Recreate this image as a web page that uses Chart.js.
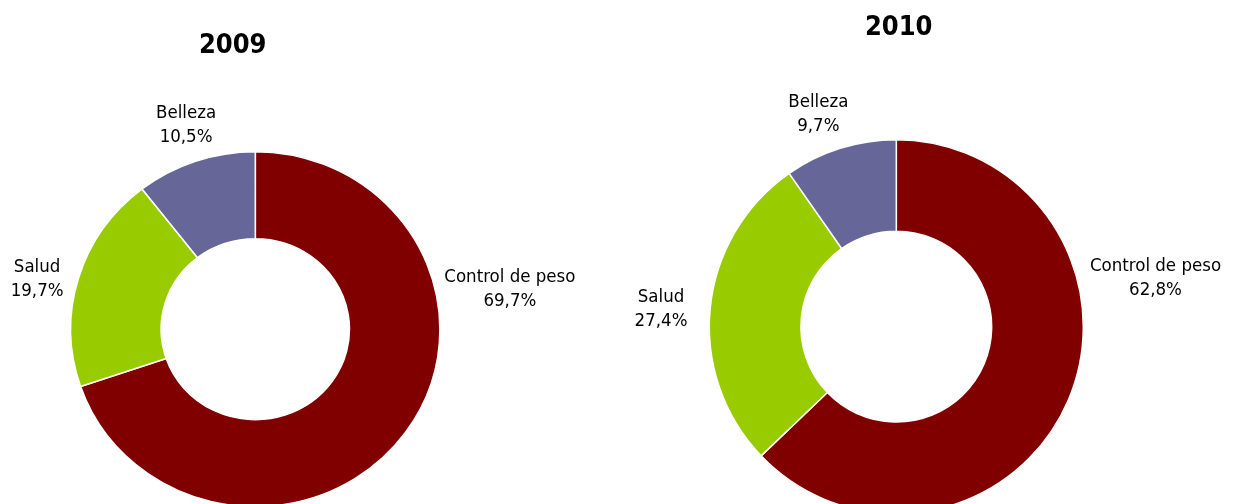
<!DOCTYPE html>
<html>
<head>
<meta charset="utf-8">
<script src="https://cdn.jsdelivr.net/npm/chart.js@4/dist/chart.umd.min.js"></script>
<style>
  html, body { margin: 0; padding: 0; background: #fff; overflow: hidden; }
  .pane { position: absolute; top: 0; }
</style>
</head>
<body>
<div class="pane" style="left:0px"><canvas id="chart2009" width="620" height="504"></canvas></div>
<div class="pane" style="left:620px"><canvas id="chart2010" width="619" height="504"></canvas></div>
<script>
// data
var categories = ['Control de peso', 'Salud', 'Belleza'];
var years = ['2009', '2010'];
var values2009 = [69.7, 19.7, 10.5];
var values2010 = [62.8, 27.4, 9.7];

var colors = ['#800000', '#99CC00', '#666699'];
var labelFont = '18.5px "DejaVu Sans Condensed", "DejaVu Sans", sans-serif';
var titleFont = 'bold 27px "DejaVu Sans Condensed", "DejaVu Sans", sans-serif';

// where each label sits, as offsets from the ring centre in outer radii
var labelOffsets2009 = [[1.379, -0.268], [-1.182, -0.321], [-0.375, -1.188]];
var labelOffsets2010 = [[1.386, -0.299], [-1.258, -0.134], [-0.417, -1.173]];

function pct(v) {
  return v.toFixed(1).replace('.', ',') + '%';
}

// stretch the ring sideways (the left picture is slightly wider than tall)
var stretchPlugin = {
  id: 'stretch',
  beforeDatasetsDraw: function(chart, args, opts) {
    var arc = chart.getDatasetMeta(0).data[0];
    var ctx = chart.ctx;
    ctx.save();
    ctx.translate(arc.x, 0);
    ctx.scale(opts.sx || 1, 1);
    ctx.translate(-arc.x, 0);
  },
  afterDatasetsDraw: function(chart) {
    chart.ctx.restore();
  }
};

var labelPlugin = {
  id: 'sliceLabels',
  afterDraw: function(chart, args, opts) {
    var ctx = chart.ctx;
    var meta = chart.getDatasetMeta(0);
    var values = chart.data.datasets[0].data;
    var sx = (chart.options.plugins.stretch || {}).sx || 1;
    ctx.save();
    ctx.fillStyle = '#000';
    ctx.textAlign = 'center';
    ctx.textBaseline = 'alphabetic';
    ctx.font = labelFont;
    meta.data.forEach(function(arc, i) {
      var p = arc.getProps(['x', 'y', 'outerRadius'], true);
      var off = opts.offsets[i];
      var x = p.x + off[0] * p.outerRadius * sx;
      var y = p.y + off[1] * p.outerRadius;
      ctx.fillText(chart.data.labels[i], x, y);
      ctx.fillText(pct(values[i]), x, y + 24);
    });
    ctx.font = titleFont;
    ctx.fillText(opts.title, opts.titleX, opts.titleY);
    ctx.restore();
  }
};

function makeDonut(id, values, offsets, title, cx, cy, radius, sx, titleX, titleY) {
  var canvas = document.getElementById(id);
  var w = canvas.width, h = canvas.height;
  return new Chart(canvas.getContext('2d'), {
    type: 'doughnut',
    data: {
      labels: categories,
      datasets: [{
        data: values,
        backgroundColor: colors,
        borderColor: '#ffffff',
        borderWidth: 1.5,
        radius: radius,
        cutout: '51%',
        clip: false
      }]
    },
    options: {
      responsive: false,
      maintainAspectRatio: false,
      animation: false,
      events: [],
      layout: {
        padding: { left: 0, right: w - 2 * cx, top: 2 * cy - h, bottom: 0 }
      },
      plugins: {
        legend: { display: false },
        tooltip: { enabled: false },
        stretch: { sx: sx },
        sliceLabels: { offsets: offsets, title: title, titleX: titleX, titleY: titleY }
      }
    },
    plugins: [stretchPlugin, labelPlugin]
  });
}

makeDonut('chart2009', values2009, labelOffsets2009, years[0], 255.3, 329.2, 177.5, 1.04, 232.7, 53.3);
makeDonut('chart2010', values2010, labelOffsets2010, years[1], 276.3, 326.7, 187, 1, 278.7, 35);
</script>
</body>
</html>
